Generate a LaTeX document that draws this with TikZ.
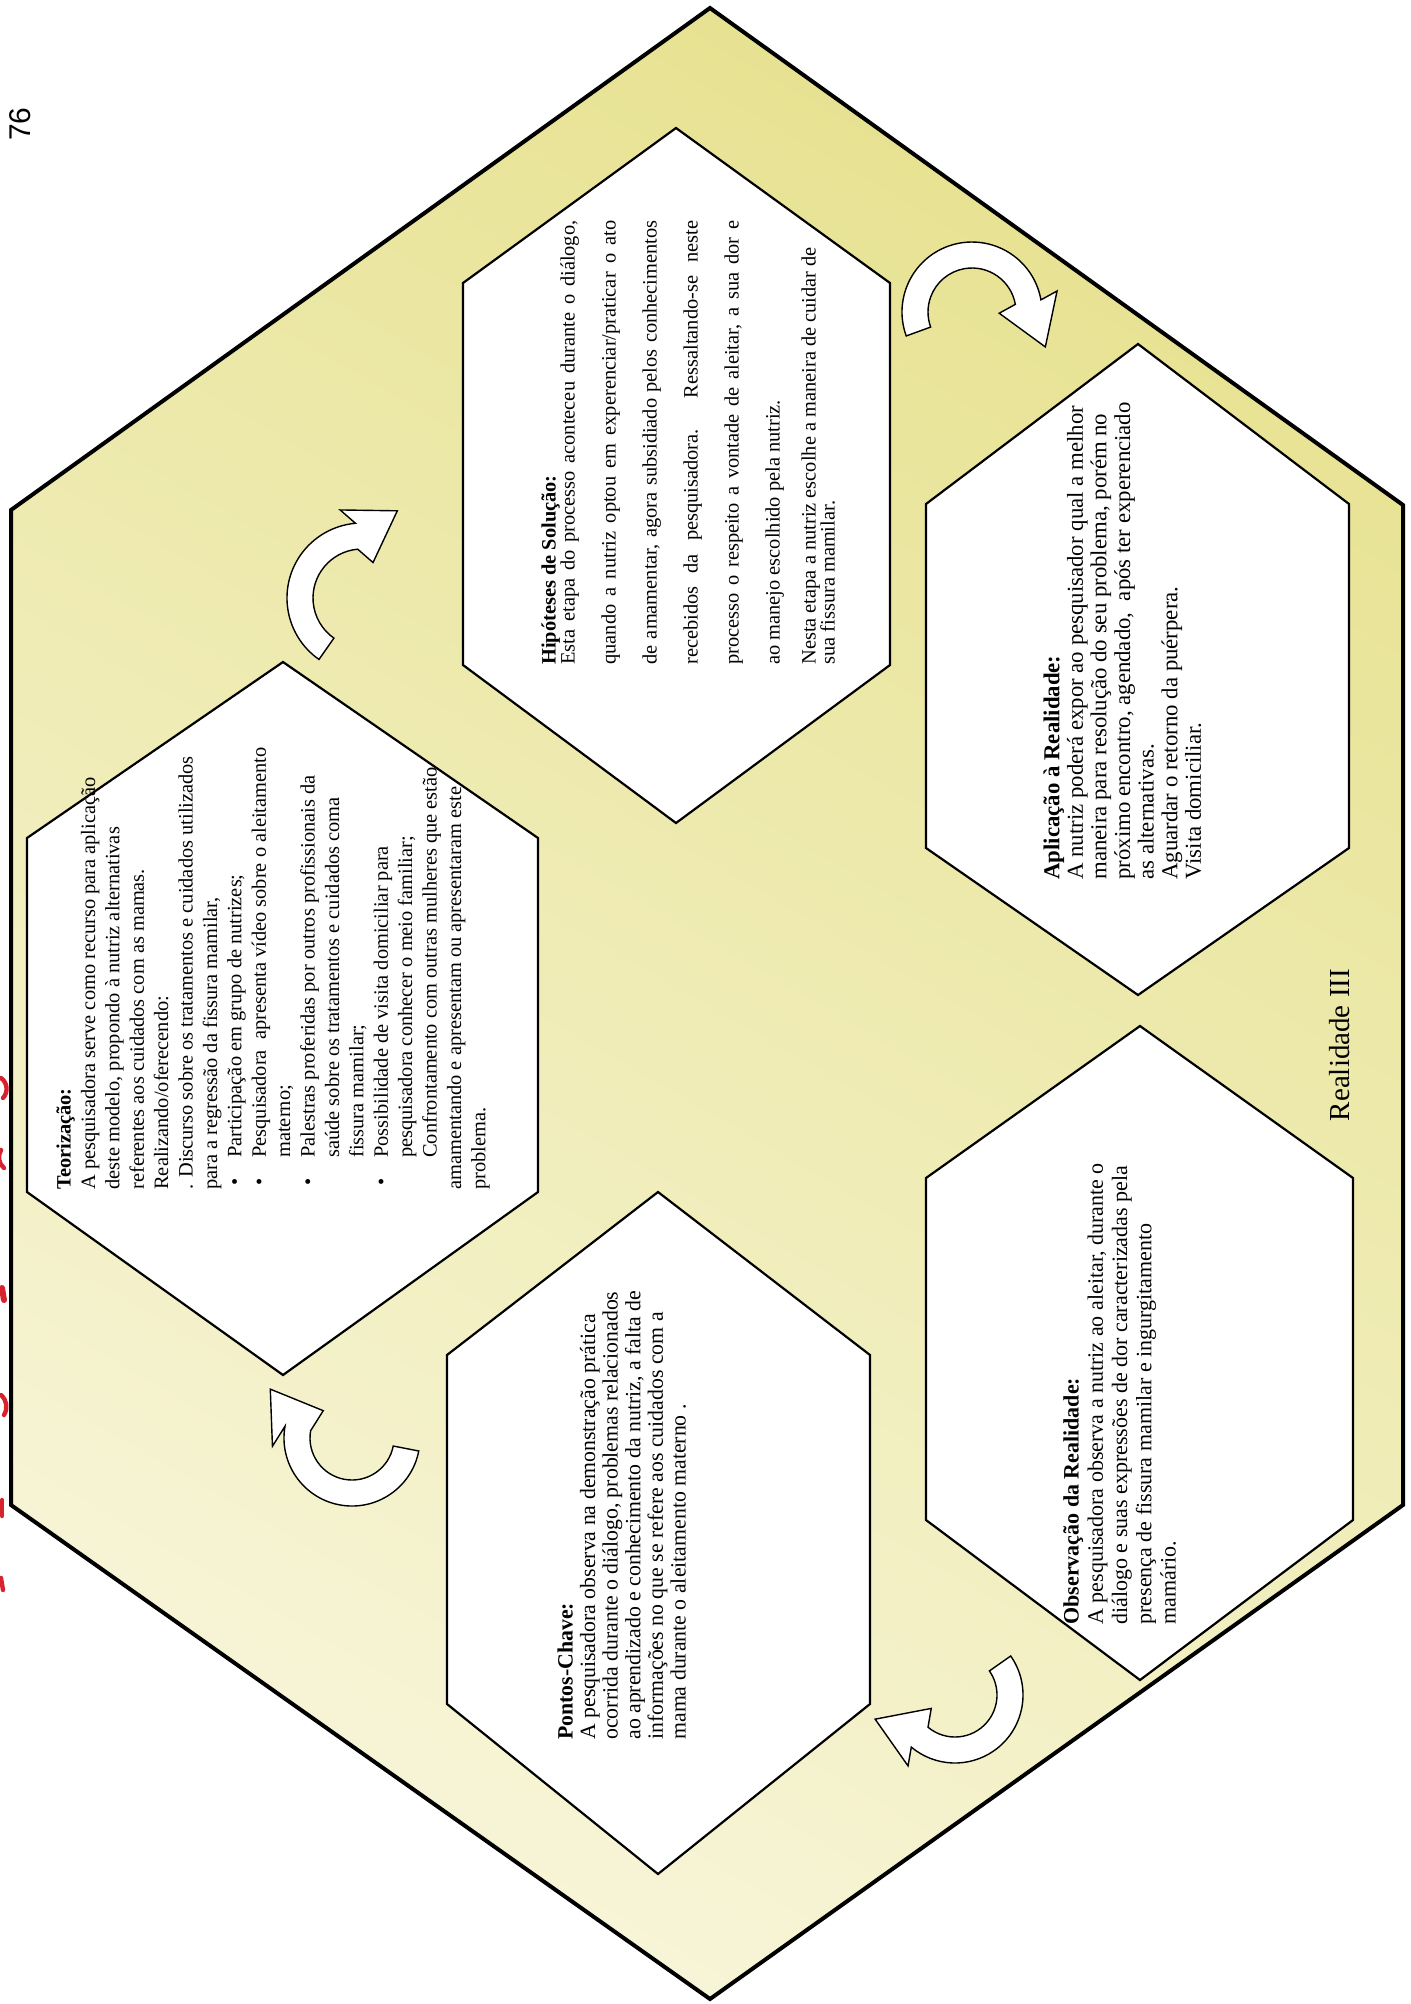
\documentclass[tikz,border=0pt]{standalone}
\usepackage{fontspec}
\setmainfont{Liberation Serif}
\newfontfamily\pgnum{Liberation Sans}
\usetikzlibrary{calc}
\definecolor{yelA}{RGB}{231,226,145}
\definecolor{yelB}{RGB}{247,245,216}
\definecolor{scanred}{RGB}{215,35,45}
\newlength\jw
\setlength\jw{222pt}
\newcommand\jl[1]{\makebox[\jw][s]{#1}}
\newcommand\bul{\hspace*{2pt}\makebox[14pt][l]{•}}
\newcommand\ind{\hspace*{16pt}}
% curved block arrow: cx, cy, R, start angle, end angle, head tilt
\newcommand\cArrow[6]{%
  \pgfmathsetmacro\cAro{#3+13}%
  \pgfmathsetmacro\cAri{#3-13}%
  \pgfmathsetmacro\cAd{#5+90+#6}%
  \pgfmathsetmacro\cAdo{\cAd-90}%
  \pgfmathsetmacro\cAdi{\cAd+90}%
  \coordinate (ac) at (#1,#2);
  \coordinate (ab) at ($(ac)+(#5:#3)$);
  \draw[arrowbody] ($(ac)+(#4:\cAro)$) arc[start angle=#4,end angle=#5,radius=\cAro]
    -- ($(ab)+(\cAdo:31)$) -- ($(ab)+(\cAd:48)$) -- ($(ab)+(\cAdi:31)$)
    -- ($(ac)+(#5:\cAri)$) arc[start angle=#5,end angle=#4,radius=\cAri] -- cycle;
}
\begin{document}
\begin{tikzpicture}[x=0.5pt,y=-0.5pt,
  bighex/.style={draw=black,line width=2pt,line join=miter,top color=yelA,bottom color=yelB,shading angle=-30},
  hexbox/.style={draw=black,line width=1.1pt,fill=white,line join=miter},
  arrowbody/.style={draw=black,line width=0.7pt,fill=white,line join=miter},
  txt/.style={rotate=90,anchor=north west,inner sep=0pt,align=left,font=\fontsize{10.2}{12.2}\selectfont},
  redmark/.style={scanred,line width=2.2pt,line cap=round},
]
\useasboundingbox (0,0) rectangle (1410,2004);
\fill[white] (0,0) rectangle (1410,2004);

% outer hexagon
\path[bighex] (710,8) -- (1403,505) -- (1403,1505) -- (710,1999) -- (11,1505) -- (11,510) -- cycle;

% inner hexagons
\draw[hexbox] (283,662) -- (538,838) -- (538,1192) -- (283,1375) -- (27,1192) -- (27,838) -- cycle;   % Teorizacao
\draw[hexbox] (676,128) -- (890,283) -- (890,665) -- (676,823) -- (463,665) -- (463,283) -- cycle;     % Hipoteses
\draw[hexbox] (1138,344) -- (1349,504) -- (1349,848) -- (1138,995) -- (926,848) -- (926,504) -- cycle; % Aplicacao
\draw[hexbox] (658,1192) -- (870,1355) -- (870,1704) -- (658,1874) -- (447,1704) -- (447,1355) -- cycle; % Pontos-Chave
\draw[hexbox] (1140,1026) -- (1353,1178) -- (1353,1520) -- (1140,1680) -- (926,1520) -- (926,1178) -- cycle; % Observacao

% curved arrows
\cArrow{362}{598}{62}{125}{265}{-27}
\cArrow{972}{312}{57}{160}{350}{-11}
\cArrow{955}{1695}{55}{-35}{130}{-18}
\cArrow{352}{1438}{55}{11}{190}{-45}

% texts
\node[txt] (teo) at (56,1190) {\textbf{Teorização:}\\
A pesquisadora serve como recurso para aplicação\\
deste modelo, propondo à nutriz alternativas\\
referentes aos cuidados com as mamas.\\
Realizando/oferecendo:\\
. Discurso sobre os tratamentos e cuidados utilizados\\
para a regressão da fissura mamilar,\\
\bul Participação em grupo de nutrizes;\\
\bul Pesquisadora\ \ apresenta vídeo sobre o aleitamento\\
\ind materno;\\
\bul Palestras proferidas por outros profissionais da\\
\ind saúde sobre os tratamentos e cuidados coma\\
\ind fissura mamilar;\\
\bul Possibilidade de visita domiciliar para\\
\ind pesquisadora conhecer o meio familiar;\\
\ind Confrontamento com outras mulheres que estão\\
amamentando e apresentam ou apresentaram este\\
problema.};

\node[txt] (hip) at (541,665) {\textbf{Hipóteses de Solução:}\\[-2.7pt]
\jl{Esta etapa do processo aconteceu durante o diálogo,}\\[8.3pt]
\jl{quando a nutriz optou em experenciar/praticar o ato}\\[8.3pt]
\jl{de amamentar, agora subsidiado pelos conhecimentos}\\[8.3pt]
\jl{recebidos da pesquisadora. Ressaltando-se neste}\\[8.3pt]
\jl{processo o respeito a vontade de aleitar, a sua dor e}\\[8.3pt]
ao manejo escolhido pela nutriz.\\[5.8pt]
Nesta etapa a nutriz escolhe a maneira de cuidar de\\[-2.7pt]
sua fissura mamilar.};

\node[txt,font=\fontsize{11.4}{11.8}\selectfont] (apl) at (1043,880) {\textbf{Aplicação à Realidade:}\\
A nutriz poderá expor ao pesquisador qual a melhor\\
maneira para resolução do seu problema, porém no\\
próximo encontro, agendado,\ \ após ter experenciado\\
as alternativas.\\
Aguardar o retorno da puérpera.\\
Visita domiciliar.};

\node[txt,font=\fontsize{11}{12.1}\selectfont] (obs) at (1063,1625) {\textbf{Observação da Realidade:}\\
A pesquisadora observa a nutriz ao aleitar, durante o\\
diálogo e suas expressões de dor caracterizadas pela\\
presença de fissura mamilar e ingurgitamento\\
mamário.};

\node[txt,font=\fontsize{10.9}{11.3}\selectfont] (pts) at (557,1740) {\textbf{Pontos-Chave:}\\
A pesquisadora observa na demonstração prática\\
ocorrida durante o diálogo, problemas relacionados\\
ao aprendizado e conhecimento da nutriz, a falta de\\
informações no que se refere aos cuidados com a\\
mama durante o aleitamento materno .};

\node[rotate=90,font=\fontsize{14.5}{16}\selectfont,inner sep=0pt] (real) at (1340,1045) {Realidade III};

\node[rotate=90,font=\pgnum\fontsize{15}{16}\selectfont,inner sep=0pt] (pg) at (20,124) {76};

% red fragments at the left edge (cut-off scan)
\draw[redmark] (1,1078) to[bend left=50] (3,1098);
\draw[redmark] (1,1150) to[bend right=40] (4,1168);
\draw[redmark,line width=3pt] (2,1288) -- (4,1300);
\draw[redmark] (1,1395) to[bend left=40] (4,1415);
\draw[redmark] (2,1500) -- (2,1516);
\draw[redmark] (1,1578) -- (3,1590);
\end{tikzpicture}
\end{document}
